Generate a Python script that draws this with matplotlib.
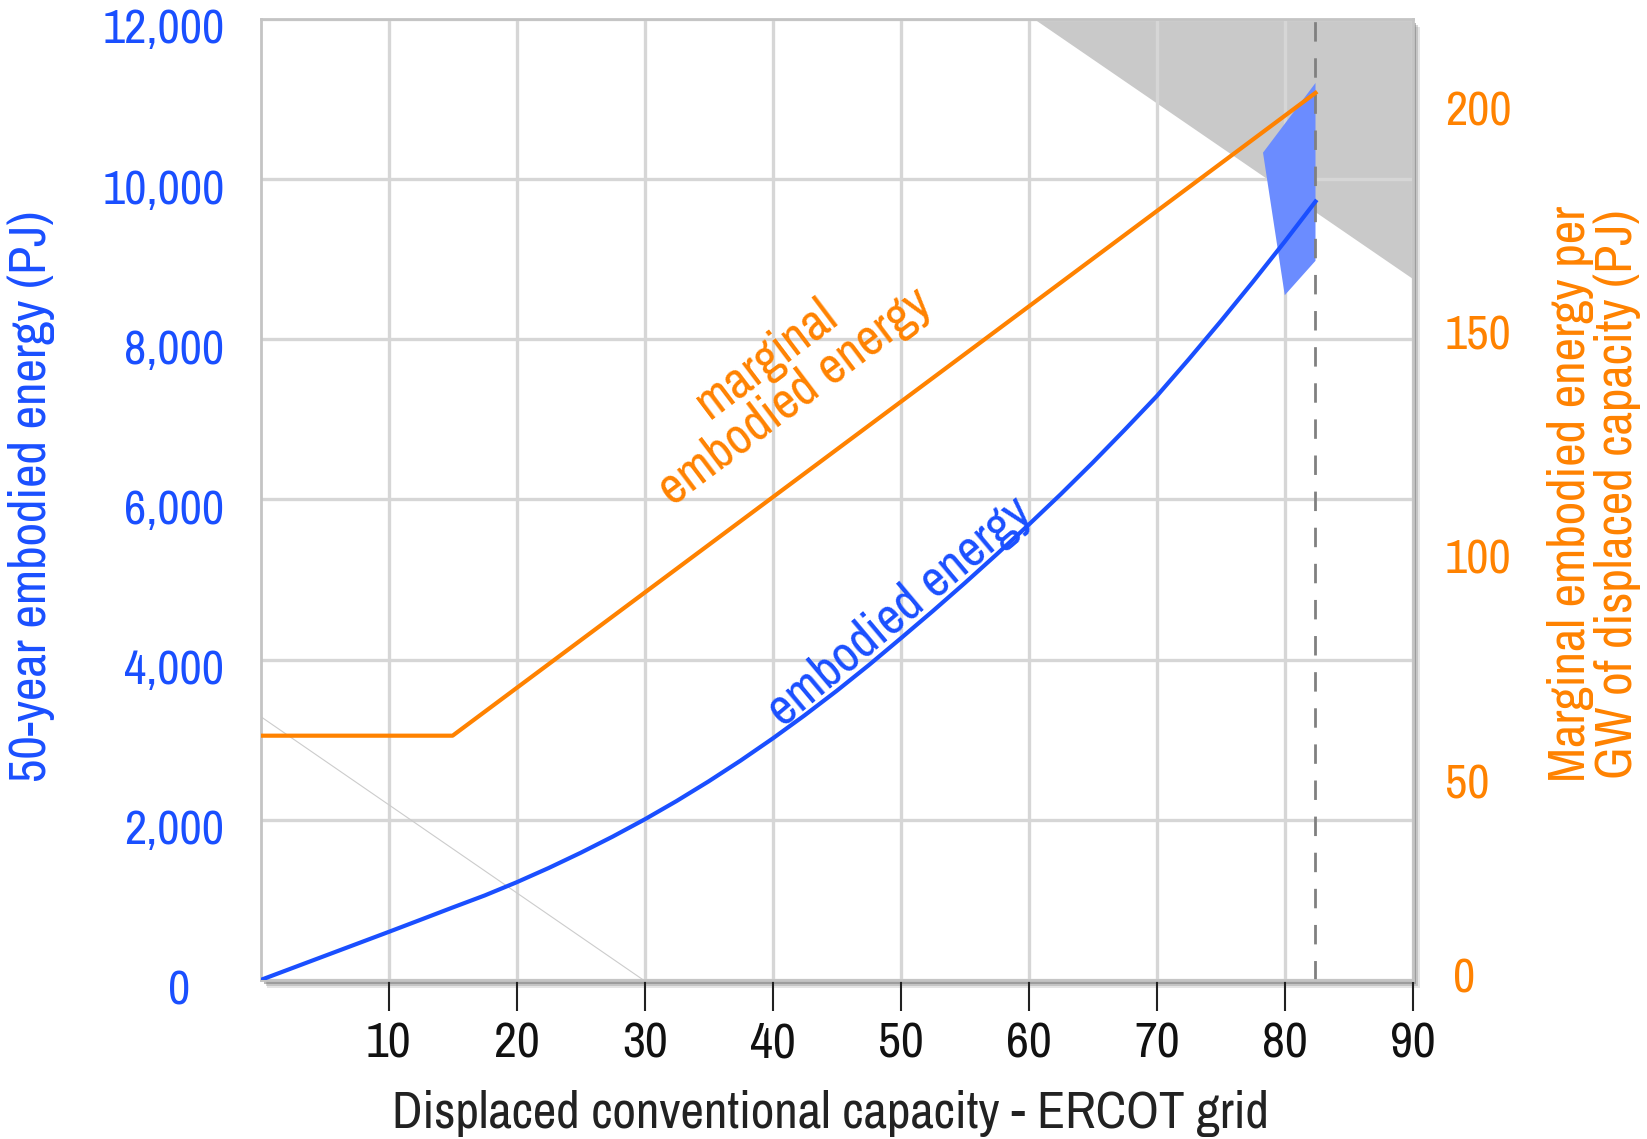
import matplotlib
matplotlib.use("Agg")
from matplotlib import pyplot as plt
from matplotlib import patheffects, transforms

plt.rcParams['font.family'] = ['Liberation Sans Narrow', 'Archivo Narrow', 'Roboto Condensed',
                               'PT Sans Narrow', 'Liberation Sans', 'DejaVu Sans']

# displaced capacity (GW) and cumulative embodied energy (PJ)
cap = [0, 2.5, 5, 7.5, 10, 12.5, 15, 17.5, 20, 22.5, 25, 27.5, 30, 32.5, 35, 37.5,
       40, 42.5, 45, 47.5, 50, 52.5, 55, 57.5, 60, 62.5, 65, 67.5, 70, 72.5, 75,
       77.5, 80, 82.4]
embodied = [0, 150, 300, 450, 600, 752, 905, 1055, 1220, 1398, 1588, 1790, 2005,
            2235, 2480, 2740, 3015, 3305, 3610, 3930, 4265, 4605, 4955, 5315, 5685,
            6065, 6460, 6870, 7290, 7750, 8225, 8715, 9220, 9720]

# marginal embodied energy per GW (PJ), right axis
marg_x = [0, 15, 82.4]
marg_y = [60, 60, 203.4]

# uncertainty band near the end of the curve
band_x = [82.4, 78.3, 80.0, 82.4]
band_y = [11200, 10330, 8550, 8980]

# shaded out-of-range region and the faint guide line
shade_x = [60.45, 90, 90]
shade_y = [12000, 12000, 8750]
guide_x = [0, 29.9]
guide_y = [3290, 0]
cap_limit = 82.4

xticks = [10, 20, 30, 40, 50, 60, 70, 80, 90]
left_ticks = [0, 2000, 4000, 6000, 8000, 10000, 12000]
right_ticks = [6.6, 50, 100, 150, 200]
right_labels = ['0', '50', '100', '150', '200']

blue = '#1a4fff'
orange = '#ff8200'
fs = 35      # tick labels
fs_lab = 37  # axis titles and inline labels

fig = plt.figure(figsize=(16.47, 11.39), dpi=100)
ax = fig.add_axes([0.1582, 0.1396, 0.6996, 0.8438])
ax.patch.set_path_effects([
    patheffects.SimplePatchShadow(offset=(5, -6), shadow_rgbFace='#999999', alpha=0.25),
    patheffects.SimplePatchShadow(offset=(4, -4.5), shadow_rgbFace='#888888', alpha=0.35),
    patheffects.SimplePatchShadow(offset=(2.5, -3), shadow_rgbFace='#777777', alpha=0.5),
    patheffects.Normal()])
ax.set_xlim(0, 90)
ax.set_ylim(0, 12000)
ax.set_axisbelow(True)
ax.grid(True, color='#d6d6d6', lw=2.4)

ax.fill(shade_x, shade_y, color='#c9c9c9', zorder=0.3, lw=0)
ax.plot(guide_x, guide_y, color='#cccccc', lw=0.8, zorder=0.6)
ax.fill(band_x, band_y, color='#6b8cff', lw=0, zorder=2)
ax.axvline(cap_limit, color='#808080', lw=2, dashes=(7, 6), zorder=2.5)
ax.plot(cap, embodied, color=blue, lw=3, zorder=3)

ax.set_xticks(xticks)
ax.set_xticklabels([str(t) for t in xticks], fontsize=fs + 1, color='#111111')
ax.tick_params(axis='x', length=22, width=1.5, color='#222222', pad=8)
ax.set_yticks(left_ticks)
ax.set_yticklabels(['{:,}'.format(t) for t in left_ticks], fontsize=fs, color=blue)
ax.tick_params(axis='y', length=0, pad=26)
off = transforms.ScaledTranslation(0, -7 / 100, fig.dpi_scale_trans)
off0 = transforms.ScaledTranslation(-34 / 100, -7 / 100, fig.dpi_scale_trans)
for i, lab in enumerate(ax.get_yticklabels()):
    lab.set_transform(lab.get_transform() + (off0 if i == 0 else off))
for s in ax.spines.values():
    s.set_color('#c4c4c4')
    s.set_linewidth(2)

ax2 = ax.twinx()
ax2.set_ylim(5.5, 219.9)
ax2.plot(marg_x, marg_y, color=orange, lw=3, zorder=3)
ax2.set_yticks(right_ticks)
ax2.set_yticklabels(right_labels, fontsize=fs, color=orange)
ax2.tick_params(axis='y', length=0, pad=23)
rlab0 = ax2.get_yticklabels()[0]
rlab0.set_transform(rlab0.get_transform() + transforms.ScaledTranslation(8 / 100, 0, fig.dpi_scale_trans))
for s in ax2.spines.values():
    s.set_visible(False)

ax.text(40.6, 7520, 'marginal\nembodied energy', color=orange, fontsize=fs_lab,
        rotation=37, ha='center', va='center', linespacing=1.0,
        rotation_mode='anchor')
ax.text(49.9, 4600, 'embodied energy', color=blue, fontsize=fs_lab,
        rotation=40, ha='center', va='center', rotation_mode='anchor')

fig.text(0.504, 0.0228, 'Displaced conventional capacity - ERCOT grid',
         fontsize=fs_lab, color='#222222', ha='center', va='center')
fig.text(0.0191, 0.5645, '50-year embodied energy (PJ)', fontsize=fs_lab,
         color=blue, rotation=90, ha='center', va='center')
fig.text(0.9678, 0.566, 'Marginal embodied energy per\nGW of displaced capacity (PJ)',
         fontsize=fs_lab, color=orange, rotation=90, ha='center', va='center',
         linespacing=1.0)

fig.savefig('out.png', dpi=100)
